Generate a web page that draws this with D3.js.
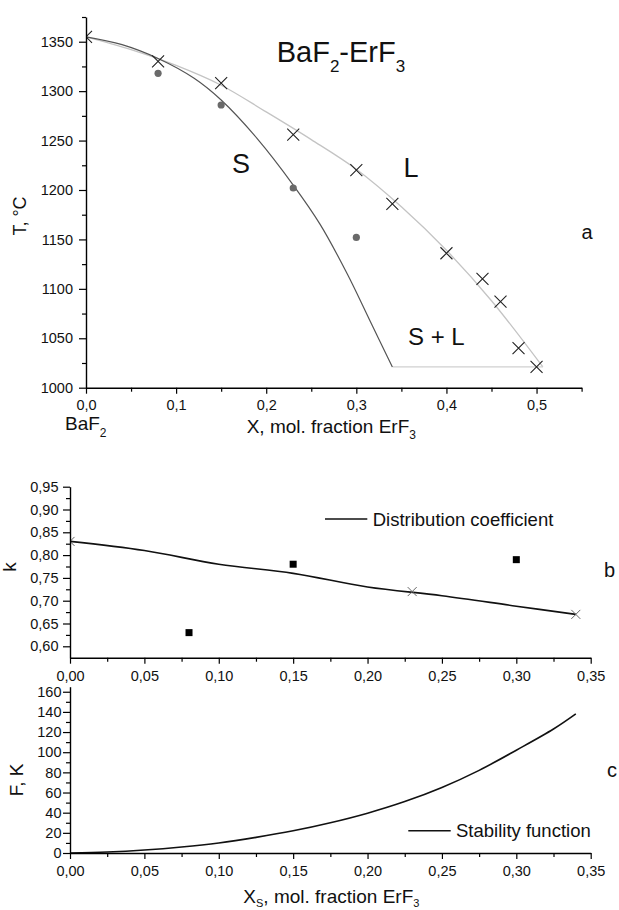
<!DOCTYPE html>
<html><head><meta charset="utf-8">
<script src="https://cdn.jsdelivr.net/npm/d3@7"></script>
<style>body{margin:0;background:#fff} svg{display:block;font-family:"Liberation Sans",Arial,sans-serif}</style>
</head><body><svg width="619" height="910"></svg>
<script>
// ---------- DATA ----------
// (a) phase diagram BaF2-ErF3
const liquidusX = [0, 0.05, 0.10, 0.15, 0.20, 0.25, 0.30, 0.35, 0.40, 0.45, 0.507];
const liquidusT = [1355, 1342, 1326, 1306, 1279, 1251, 1221, 1183, 1139, 1088, 1021];
const solidusX = [0, 0.04, 0.08, 0.12, 0.15, 0.19, 0.23, 0.26, 0.29, 0.315, 0.34];
const solidusT = [1355, 1347, 1333, 1313, 1291, 1252, 1205, 1165, 1115, 1068, 1021];
const eutecticX = [0.34, 0.507];
const eutecticT = [1021, 1021];
const liqPtsX = [0, 0.08, 0.15, 0.23, 0.30, 0.34, 0.40, 0.44, 0.46, 0.48, 0.50];
const liqPtsT = [1355, 1330, 1308, 1256, 1220, 1186, 1136, 1110, 1087, 1040, 1021];
const solPtsX = [0.08, 0.15, 0.23, 0.30];
const solPtsT = [1318, 1286, 1202, 1152];
const aXTicks = [0, 0.1, 0.2, 0.3, 0.4, 0.5];
const aXMinor = [0.05, 0.15, 0.25, 0.35, 0.45, 0.55];
const aYTicks = [1000, 1050, 1100, 1150, 1200, 1250, 1300, 1350];
const aYMinor = [1025, 1075, 1125, 1175, 1225, 1275, 1325, 1375];
// (b) distribution coefficient
const kLineX = [0, 0.05, 0.10, 0.15, 0.20, 0.25, 0.30, 0.34];
const kLineV = [0.83, 0.81, 0.78, 0.76, 0.73, 0.711, 0.688, 0.67];
const kCrossX = [0, 0.23, 0.34];
const kCrossV = [0.83, 0.72, 0.67];
const kSqX = [0.08, 0.15, 0.30];
const kSqV = [0.63, 0.78, 0.79];
const bYTicks = [0.60, 0.65, 0.70, 0.75, 0.80, 0.85, 0.90, 0.95];
const bYMinor = [0.625, 0.675, 0.725, 0.775, 0.825, 0.875, 0.925];
// (c) stability function
const fX = [0, 0.025, 0.05, 0.075, 0.10, 0.125, 0.15, 0.175, 0.20, 0.225, 0.25, 0.275, 0.30, 0.325, 0.34];
const fV = [0, 1, 3, 6, 10, 15.5, 22, 30, 39.5, 51, 65, 82, 102, 123, 138];
const cYTicks = [0, 20, 40, 60, 80, 100, 120, 140, 160];
const cYMinor = [10, 30, 50, 70, 90, 110, 130, 150];
const sXTicks = [0, 0.05, 0.10, 0.15, 0.20, 0.25, 0.30, 0.35];
const sXMinor = [0.025, 0.075, 0.125, 0.175, 0.225, 0.275, 0.325];

// ---------- SETUP ----------
const svg = d3.select("svg");
const loc = d3.formatLocale({decimal: ",", thousands: "", grouping: [3], currency: ["", ""]});
const f1 = loc.format(".1f"), f2 = loc.format(".2f"), f0 = loc.format("d");
const FONT = 14.5;

function axes(g, x, y, o) {
  const gx = g.append("g").attr("transform", `translate(0,${y.range()[0]})`);
  gx.call(d3.axisBottom(x).tickValues(o.xt).tickFormat(o.xf).tickSize(6).tickSizeOuter(0).tickPadding(o.xpad));
  gx.append("g").call(d3.axisBottom(x).tickValues(o.xm).tickFormat("").tickSize(4).tickSizeOuter(0)).select(".domain").remove();
  const gy = g.append("g").attr("transform", `translate(${x.range()[0]},0)`);
  gy.call(d3.axisLeft(y).tickValues(o.yt).tickFormat(o.yf).tickSize(7).tickSizeOuter(0).tickPadding(o.ypad));
  gy.append("g").call(d3.axisLeft(y).tickValues(o.ym).tickFormat("").tickSize(4).tickSizeOuter(0)).select(".domain").remove();
  g.selectAll(".domain").attr("stroke", "#000").attr("stroke-width", 1.4);
  g.selectAll(".tick line").attr("stroke", "#000").attr("stroke-width", 1.2);
  g.selectAll(".tick text").attr("font-size", FONT).attr("fill", "#111").attr("font-family", '"Liberation Sans",Arial,sans-serif');
}
function crosses(g, xs, ys, x, y, r, color, w) {
  g.selectAll(null).data(xs.map((d, i) => [d, ys[i]])).enter().append("path")
    .attr("d", d => { const cx = x(d[0]), cy = y(d[1]);
      return `M${cx - r},${cy - r}L${cx + r},${cy + r}M${cx - r},${cy + r}L${cx + r},${cy - r}`; })
    .attr("stroke", color).attr("stroke-width", w).attr("fill", "none");
}
function clip(id, x, y) {
  svg.append("clipPath").attr("id", id).append("rect")
    .attr("x", x.range()[0]).attr("y", y.range()[1])
    .attr("width", x.range()[1] - x.range()[0] + 20).attr("height", y.range()[0] - y.range()[1]);
}

// ---------- CHART A ----------
const ax = d3.scaleLinear().domain([0, 0.55]).range([86, 581.6]);
const ay = d3.scaleLinear().domain([1000, 1375]).range([387.7, 17]);
clip("ca", ax, ay);
const ga = svg.append("g");
const pa = ga.append("g").attr("clip-path", "url(#ca)");
const lineA = d3.line().x(d => ax(d[0])).y(d => ay(d[1])).curve(d3.curveCatmullRom.alpha(0.5));
pa.append("path").attr("d", lineA(liquidusX.map((d, i) => [d, liquidusT[i]])))
  .attr("fill", "none").attr("stroke", "#c4c4c4").attr("stroke-width", 1.3);
pa.append("path").attr("d", d3.line().x(d => ax(d[0])).y(d => ay(d[1]))(eutecticX.map((d, i) => [d, eutecticT[i]])))
  .attr("fill", "none").attr("stroke", "#d0d0d0").attr("stroke-width", 1.3);
pa.append("path").attr("d", lineA(solidusX.map((d, i) => [d, solidusT[i]])))
  .attr("fill", "none").attr("stroke", "#555").attr("stroke-width", 1.2);
pa.selectAll(null).data(solPtsX.map((d, i) => [d, solPtsT[i]])).enter().append("circle")
  .attr("cx", d => ax(d[0])).attr("cy", d => ay(d[1])).attr("r", 3.6).attr("fill", "#6a6a6a");
crosses(pa, liqPtsX, liqPtsT, ax, ay, 6, "#222", 1.1);
axes(ga, ax, ay, {xt: aXTicks, xm: aXMinor, xf: f1, yt: aYTicks, ym: aYMinor, yf: f0, xpad: 6.5, ypad: 6});

// labels A
const ta = svg.append("text").attr("x", 276.7).attr("y", 61.7).attr("font-size", 29).attr("fill", "#111");
ta.append("tspan").text("BaF");
ta.append("tspan").text("2").attr("font-size", 17).attr("dy", 10);
ta.append("tspan").text("-ErF").attr("dy", -10);
ta.append("tspan").text("3").attr("font-size", 17).attr("dy", 10);
svg.append("text").attr("x", 232).attr("y", 172.7).attr("font-size", 27).attr("fill", "#111").text("S");
svg.append("text").attr("x", 403.5).attr("y", 176.7).attr("font-size", 27).attr("fill", "#111").text("L");
svg.append("text").attr("x", 408).attr("y", 345).attr("font-size", 24).attr("fill", "#111").text("S + L");
svg.append("text").attr("x", 581.5).attr("y", 239.3).attr("font-size", 20).attr("fill", "#111").text("a");
svg.append("text").attr("transform", "translate(26,216) rotate(-90)").attr("text-anchor", "middle")
  .attr("font-size", 18).attr("fill", "#111").text("T, °C");
const xla = svg.append("text").attr("x", 246.7).attr("y", 433).attr("font-size", 19).attr("fill", "#111");
xla.append("tspan").text("X, mol. fraction ErF");
xla.append("tspan").text("3").attr("font-size", 12).attr("dy", 6);
const bl = svg.append("text").attr("x", 65).attr("y", 430).attr("font-size", 19).attr("fill", "#111");
bl.append("tspan").text("BaF");
bl.append("tspan").text("2").attr("font-size", 12).attr("dy", 7);

// ---------- CHART B ----------
const bx = d3.scaleLinear().domain([0, 0.35]).range([70, 590.7]);
const by = d3.scaleLinear().domain([0.575, 0.95]).range([657.7, 486.7]);
clip("cb", bx, by);
const gb = svg.append("g");
const pb = gb.append("g").attr("clip-path", "url(#cb)");
const lineB = d3.line().x(d => bx(d[0])).y(d => by(d[1])).curve(d3.curveCatmullRom.alpha(0.5));
pb.append("path").attr("d", lineB(kLineX.map((d, i) => [d, kLineV[i]])))
  .attr("fill", "none").attr("stroke", "#111").attr("stroke-width", 1.6);
crosses(pb, kCrossX, kCrossV, bx, by, 4.5, "#666", 1);
pb.selectAll(null).data(kSqX.map((d, i) => [d, kSqV[i]])).enter().append("rect")
  .attr("x", d => bx(d[0]) - 3.5).attr("y", d => by(d[1]) - 3.5).attr("width", 7).attr("height", 7).attr("fill", "#000");
axes(gb, bx, by, {xt: sXTicks, xm: sXMinor, xf: f2, yt: bYTicks, ym: bYMinor, yf: f2, xpad: 7, ypad: 4.5});
svg.append("line").attr("x1", 325).attr("x2", 367.3).attr("y1", 519).attr("y2", 519).attr("stroke", "#111").attr("stroke-width", 1.4);
svg.append("text").attr("x", 372.7).attr("y", 526).attr("font-size", 18.5).attr("fill", "#111").text("Distribution coefficient");
svg.append("text").attr("x", 604).attr("y", 576.7).attr("font-size", 20).attr("fill", "#111").text("b");
svg.append("text").attr("transform", "translate(16,567) rotate(-90)").attr("text-anchor", "middle")
  .attr("font-size", 19).attr("fill", "#111").text("k");

// ---------- CHART C ----------
const cx = d3.scaleLinear().domain([0, 0.35]).range([70, 590.7]);
const cy = d3.scaleLinear().domain([0, 165]).range([853, 686.7]);
const gc = svg.append("g");
const lineC = d3.line().x(d => cx(d[0])).y(d => cy(d[1])).curve(d3.curveCatmullRom.alpha(0.5));
gc.append("path").attr("d", lineC(fX.map((d, i) => [d, fV[i]])))
  .attr("fill", "none").attr("stroke", "#111").attr("stroke-width", 1.6);
axes(gc, cx, cy, {xt: sXTicks, xm: sXMinor, xf: f2, yt: cYTicks, ym: cYMinor, yf: f0, xpad: 7, ypad: 1.5});
svg.append("line").attr("x1", 408.3).attr("x2", 450.7).attr("y1", 830.7).attr("y2", 830.7).attr("stroke", "#111").attr("stroke-width", 1.4);
svg.append("text").attr("x", 456).attr("y", 837.3).attr("font-size", 18.5).attr("fill", "#111").text("Stability function");
svg.append("text").attr("x", 607).attr("y", 776.7).attr("font-size", 20).attr("fill", "#111").text("c");
svg.append("text").attr("transform", "translate(23,780) rotate(-90)").attr("text-anchor", "middle")
  .attr("font-size", 19).attr("fill", "#111").text("F, K");
const xlc = svg.append("text").attr("x", 243.3).attr("y", 903).attr("font-size", 19).attr("fill", "#111");
xlc.append("tspan").text("X");
xlc.append("tspan").text("S").attr("font-size", 11).attr("dy", 4);
xlc.append("tspan").text(", mol. fraction ErF").attr("dy", -4);
xlc.append("tspan").text("3").attr("font-size", 11).attr("dy", 4);
</script></body></html>
